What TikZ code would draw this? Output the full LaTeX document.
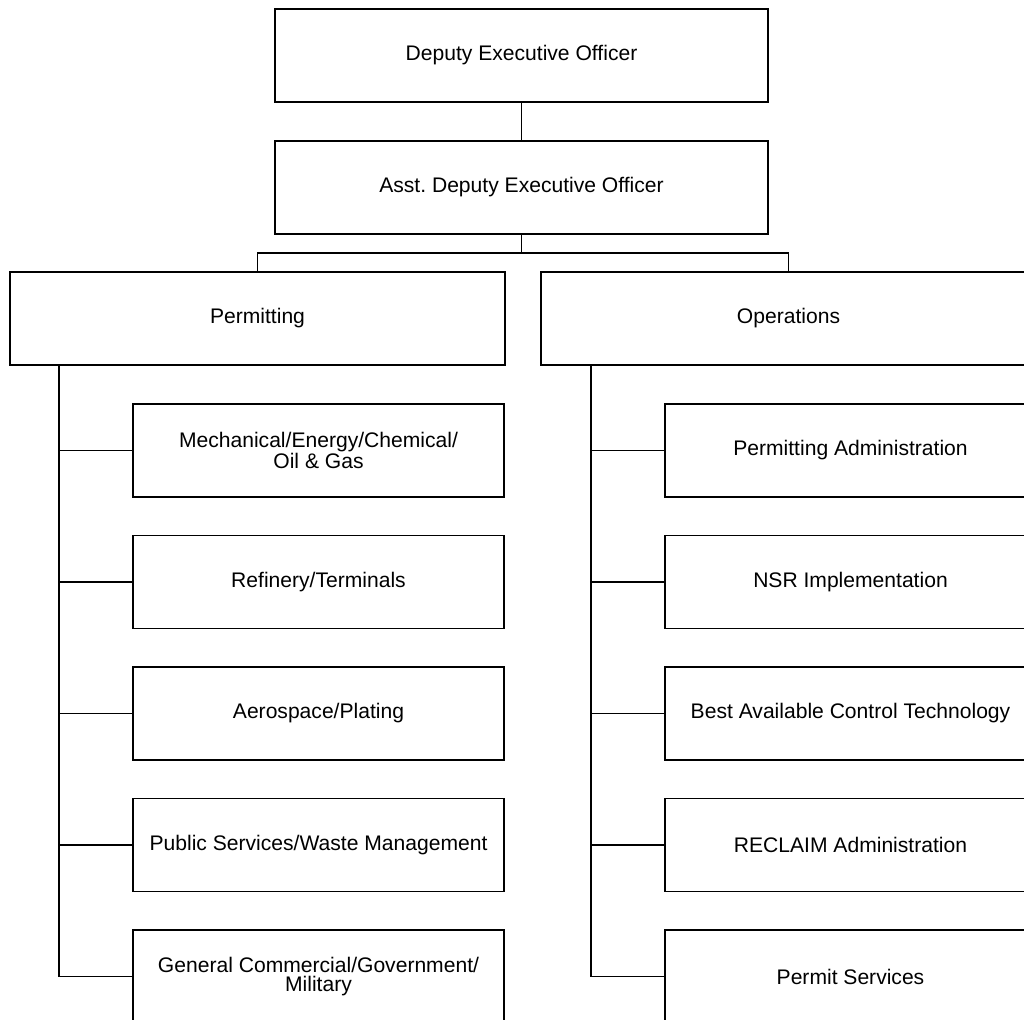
\documentclass[tikz,border=0pt]{standalone}
\usepackage{fontspec}
\setmainfont{Liberation Sans}
\frenchspacing
\begin{document}
\begin{tikzpicture}[x=0.02cm,y=-0.02cm,line width=0.9pt]
        \tikzstyle{head}=[draw=black,fill=white,minimum width=9.86cm,minimum height=1.86cm,font=\fontsize{12}{10.5}\selectfont]
        \tikzstyle{branch}=[draw=black,fill=white,minimum width=9.9cm,minimum height=1.86cm,font=\fontsize{12}{10.5}\selectfont]
        \tikzstyle{unit}=[draw=black,fill=white,minimum width=7.42cm,minimum height=1.86cm,align=center,font=\fontsize{12}{10.5}\selectfont]
        \tikzstyle{link}=[draw=black,line width=0.9pt]
       \useasboundingbox (0,0) rectangle (1024,1019);
       \clip (0,0) rectangle (1024,1019);
       \begin{scope}
         \node [head] (deo) at (521.5,55.5) {Deputy Executive Officer};
         \node [head] (adeo) at (521.5,187.5) {Asst. Deputy Executive Officer};
         \node [branch] (perm) at (257.5,318.5) {Permitting};
         \node [branch] (ops) at (788.5,318.5) {Operations};
         \coordinate (split) at (521.5,253);
         \coordinate (pspine) at (59,365);
         \coordinate (ospine) at (591,365);

         % permitting units
         \node [unit] (pc1) at (318.5,450.5) {Mechanical/Energy/Chemical/\\Oil \& Gas};
         \node [unit] (pc2) at (318.5,582) {Refinery/Terminals};
         \node [unit] (pc3) at (318.5,713.5) {Aerospace/Plating};
         \node [unit] (pc4) at (318.5,845) {Public Services/Waste Management};
         \node [unit] (pc5) at (318.5,976.5) {General Commercial/Government/\\Military};

         % operations units
         \node [unit] (oc1) at (850.5,450.5) {Permitting Administration};
         \node [unit] (oc2) at (850.5,582) {NSR Implementation};
         \node [unit] (oc3) at (850.5,713.5) {Best Available Control Technology};
         \node [unit] (oc4) at (850.5,845) {RECLAIM Administration};
         \node [unit] (oc5) at (850.5,976.5) {Permit Services};

         \path[link] (deo) -- (adeo);
         \path[link] (adeo) -- (split);
         \path[link] (perm.north) |- (split) -| (ops.north);
         \foreach \i in {1,...,5} {
           \path[link] (pspine) |- (pc\i.west);
           \path[link] (ospine) |- (oc\i.west);
         }
        \end{scope}
      \end{tikzpicture}
\end{document}
